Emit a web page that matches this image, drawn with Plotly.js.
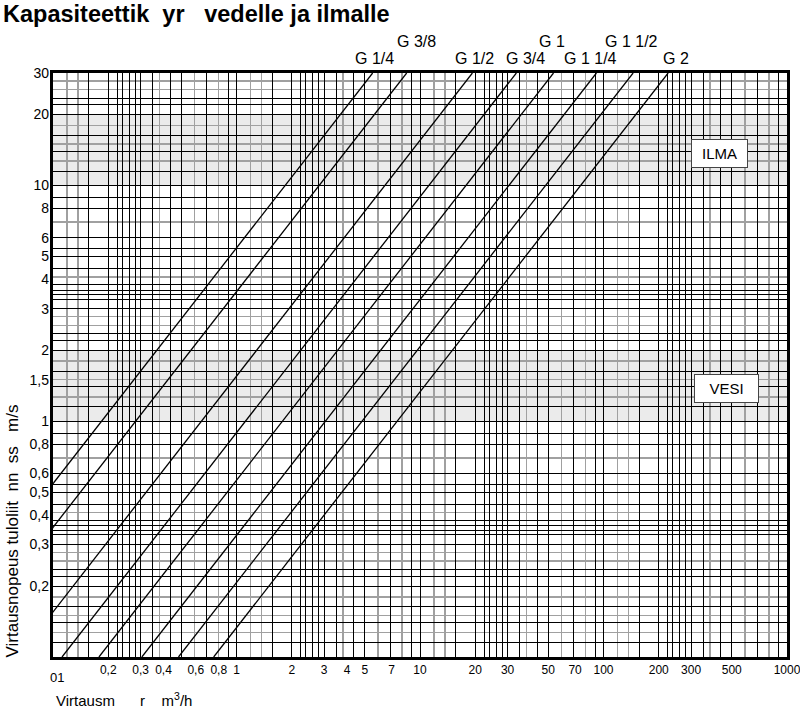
<!DOCTYPE html>
<html>
<head>
<meta charset="utf-8">
<script src="https://cdn.plot.ly/plotly-3.0.1.min.js"></script>
<style>html,body{margin:0;padding:0;background:#fff;}#chart{width:800px;height:709px;}</style>
</head>
<body>
<div id="chart"></div>
<script>
// ---- data ----
const pipeSizes = ['G 1/4', 'G 3/8', 'G 1/2', 'G 3/4', 'G 1', 'G 1 1/4', 'G 1 1/2', 'G 2'];
// flow (m3/h) of each connection size at the low and high ends of the speed scale
const speedEnds = [0.1, 30];                       // m/s
const flowAtLowEnd = [0.0184, 0.0282, 0.0644, 0.112, 0.178, 0.305, 0.483, 0.751];
const flowAtHighEnd = [5.52, 8.46, 19.3, 33.5, 53.4, 91.5, 145, 225];

const xTickVals = [0.2, 0.3, 0.4, 0.6, 0.8, 1, 2, 3, 4, 5, 7, 10, 20, 30, 50, 70, 100, 200, 300, 500, 1000];
const xTickText = ['0,2', '0,3', '0,4', '0,6', '0,8', '1', '2', '3', '4', '5', '7', '10', '20', '30', '50', '70', '100', '200', '300', '500', '1000'];
const yTickVals = [0.2, 0.3, 0.4, 0.5, 0.6, 0.8, 1, 1.5, 2, 3, 4, 5, 6, 8, 10, 20, 30];
const yTickText = ['0,2', '0,3', '0,4', '0,5', '0,6', '0,8', '1', '1,5', '2', '3', '4', '5', '6', '8', '10', '20', '30'];

const bandLabels = ['ILMA', 'VESI'];
const bandLow = [10, 1];
const bandHigh = [20, 2];

// ---- grid pattern (style) ----
const xBlackMult = [1, 1.57, 2, 2.24, 2.38, 2.6, 2.8, 3, 3.5, 4.36, 5, 6.9, 9];
const xGrayMult = [1.19, 1.37, 3.8, 5.9, 8];
const yBlackMult = [1, 1.15, 1.4, 1.63, 2, 2.2, 2.35, 3, 3.3, 3.45, 3.6, 3.8, 4.45, 5, 5.4, 6, 8, 8.85];
const yGrayMult = [1.27, 1.5, 1.8, 2.55, 2.78, 4.1, 7];

function expand(mult, decades, lo, hi) {
  const out = [];
  decades.forEach(d => mult.forEach(m => { const v = m * d; if (v >= lo * 0.999 && v <= hi * 1.001) out.push(v); }));
  return out;
}
const xDec = [0.1, 1, 10, 100, 1000];
const yDec = [0.1, 1, 10];

// ---- layout geometry ----
const L = 53, R = 13, T = 73, B = 52, W = 800, H = 709;
const PW = W - L - R, PH = H - T - B;
const px = x => (x - L) / PW;
const py = y => (H - B - y) / PH;

const font = 'Liberation Sans, Arial, Helvetica, sans-serif';

const traces = pipeSizes.map((name, i) => ({
  type: 'scatter', mode: 'lines', name: name,
  x: [flowAtLowEnd[i], flowAtHighEnd[i]],
  y: speedEnds,
  line: {color: '#000', width: 1.3},
  hoverinfo: 'name', showlegend: false
}));
traces.push({type: 'scatter', mode: 'markers', x: [1], y: [1], xaxis: 'x2', yaxis: 'y2',
  marker: {opacity: 0}, hoverinfo: 'skip', showlegend: false});

const labelPos = [[374, 58], [416, 42], [474, 58], [525, 58], [552, 42], [590, 58], [631, 42], [676, 58]];
const annotations = pipeSizes.map((name, i) => ({
  text: name, xref: 'paper', yref: 'paper', x: px(labelPos[i][0]), y: py(labelPos[i][1]),
  xanchor: 'center', yanchor: 'middle', showarrow: false,
  font: {family: font, size: 16, color: '#000'}
}));
const boxPos = [[719.5, 153, 53], [726.5, 388.5, 61]];
bandLabels.forEach((t, i) => annotations.push({
  text: t, xref: 'paper', yref: 'paper', x: px(boxPos[i][0]), y: py(boxPos[i][1]),
  xanchor: 'center', yanchor: 'middle', showarrow: false,
  bgcolor: '#fff', bordercolor: '#444', borderwidth: 1, borderpad: 1,
  width: boxPos[i][2], height: 25,
  font: {family: font, size: 15, color: '#000'}
}));
annotations.push({text: '01', xref: 'paper', yref: 'paper', x: px(57), y: py(677),
  xanchor: 'center', yanchor: 'middle', showarrow: false, font: {family: font, size: 13, color: '#000'}});
annotations.push({text: 'Virtausm\u00a0\u00a0\u00a0\u00a0\u00a0\u00a0r\u00a0\u00a0\u00a0\u00a0m<sup>3</sup>/h', xref: 'paper', yref: 'paper',
  x: px(54), y: py(699), xanchor: 'left', yanchor: 'middle', showarrow: false,
  font: {family: font, size: 15, color: '#000'}});
annotations.push({text: 'Virtausnopeus tuloliit\u00a0\u00a0nn\u00a0\u00a0ss\u00a0\u00a0\u00a0m/s', xref: 'paper', yref: 'paper',
  x: px(12), y: py(660), xanchor: 'center', yanchor: 'bottom', textangle: -90, showarrow: false,
  font: {family: font, size: 17, color: '#000'}});

const shapes = bandLow.map((lo, i) => ({
  type: 'rect', xref: 'paper', yref: 'y', x0: 0, x1: 1, y0: lo, y1: bandHigh[i],
  fillcolor: '#ebebeb', line: {width: 0}, layer: 'below'
}));

const gridAxis = (black, gray, range) => ({
  type: 'log', range: range, tickmode: 'array', tickvals: black, showticklabels: false, ticks: '',
  showgrid: true, gridcolor: '#000', gridwidth: 1,
  minor: {tickmode: 'array', tickvals: gray, showgrid: true, gridcolor: '#a0a0a0', gridwidth: 1.5, ticks: ''},
  showline: true, linecolor: '#000', linewidth: 3, mirror: true, zeroline: false, fixedrange: true
});

const layout = {
  width: W, height: H,
  margin: {l: L, r: R, t: T, b: B, pad: 0},
  paper_bgcolor: '#fff', plot_bgcolor: '#fff',
  title: {text: 'Kapasiteettik\u00a0\u00a0yr\u00a0\u00a0\u00a0vedelle ja ilmalle', x: 3 / W, xanchor: 'left',
    y: 1 - 14 / H, yanchor: 'middle', font: {family: font, size: 23.5, color: '#000', weight: 'bold'}},
  xaxis: gridAxis(expand(xBlackMult, xDec, 0.1, 1000), expand(xGrayMult, xDec, 0.1, 1000), [-1, 3]),
  yaxis: gridAxis(expand(yBlackMult, yDec, 0.1, 30), expand(yGrayMult, yDec, 0.1, 30), [-1, Math.log10(30)]),
  xaxis2: {type: 'log', range: [-1, 3], overlaying: 'x', anchor: 'y', side: 'bottom', showgrid: false,
    tickmode: 'array', tickvals: xTickVals, ticktext: xTickText, ticks: '', ticklabelstandoff: 4,
    ticklabeloverflow: 'allow',
    tickfont: {family: font, size: 12, color: '#000'}, showline: false, zeroline: false, fixedrange: true},
  yaxis2: {type: 'log', range: [-1, Math.log10(30)], overlaying: 'y', anchor: 'x', side: 'left', showgrid: false,
    tickmode: 'array', tickvals: yTickVals, ticktext: yTickText, ticks: '', ticklabelstandoff: 3,
    ticklabeloverflow: 'allow',
    tickfont: {family: font, size: 14, color: '#000'}, showline: false, zeroline: false, fixedrange: true},
  shapes: shapes,
  annotations: annotations,
  showlegend: false
};

Plotly.newPlot('chart', traces, layout, {displayModeBar: false, staticPlot: true});
</script>
</body>
</html>
